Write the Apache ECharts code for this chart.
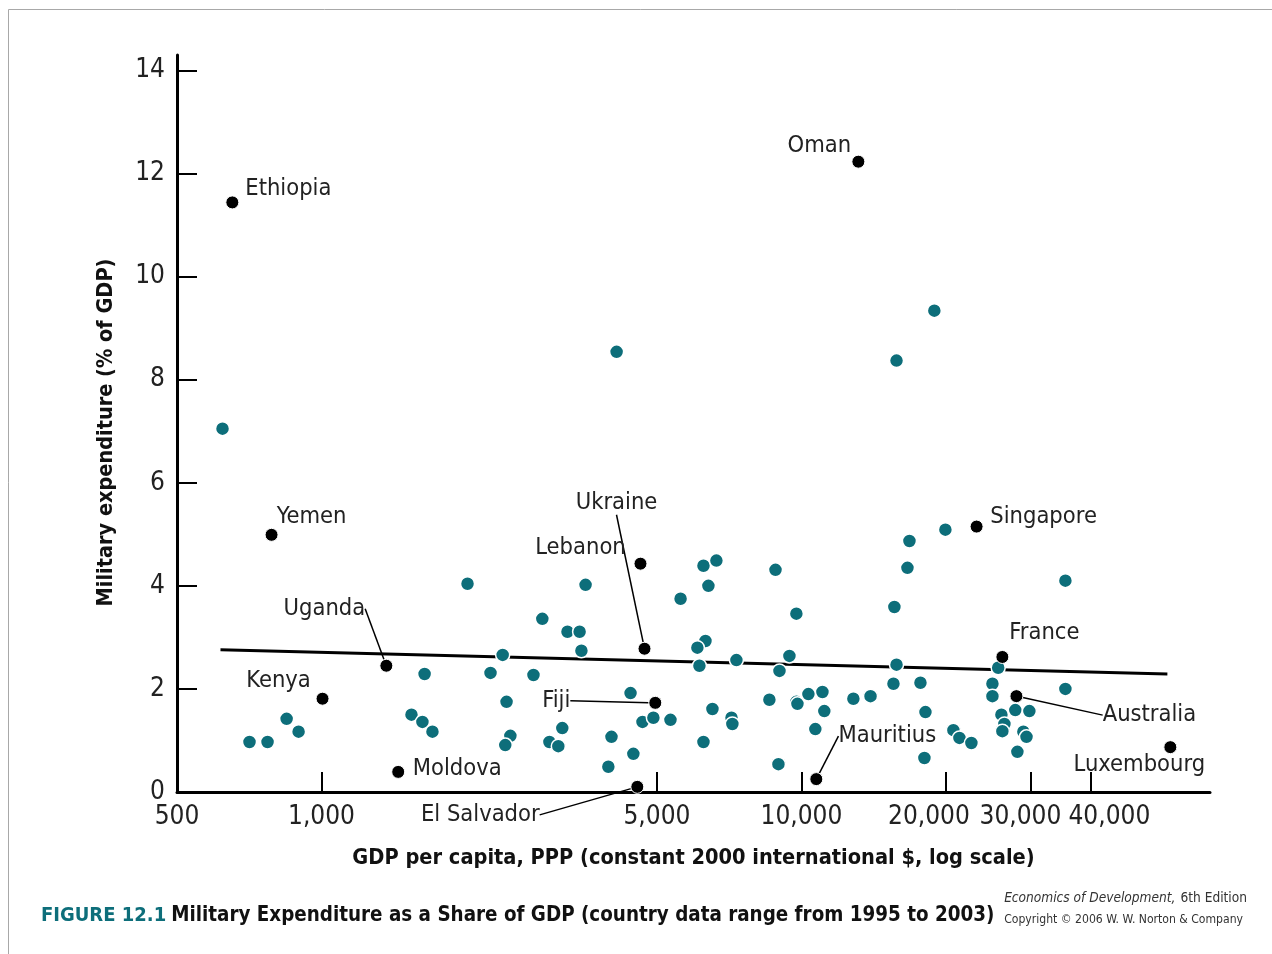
<!DOCTYPE html>
<html>
<head>
<meta charset="utf-8">
<script src="https://cdn.jsdelivr.net/npm/echarts@6/dist/echarts.min.js"></script>
<style>
  html, body { margin: 0; padding: 0; background: #fff; }
  #chart { width: 1272px; height: 954px; }
</style>
</head>
<body>
<div id="chart"></div>
<script>
// labelled countries (black dots)
var namedCountries = ['Ethiopia', 'Oman', 'Yemen', 'Lebanon', 'Ukraine', 'Uganda', 'Kenya', 'Fiji', 'Moldova',
  'El Salvador', 'Singapore', 'France', 'Australia', 'Mauritius', 'Luxembourg']
var namedGdp = [652, 13140, 787, 4620, 4710, 1365, 1005, 4960, 1445, 4550, 23170, 26220, 28050, 10740, 58700]
var namedMilex = [11.44, 12.23, 4.99, 4.43, 2.78, 2.45, 1.81, 1.73, 0.39, 0.10, 5.15, 2.62, 1.86, 0.25, 0.87]

// other countries (teal dots)
var otherGdp = [622, 708, 772, 846, 896, 1540, 1623, 1703, 1640, 2015, 2250, 2385, 2765, 2430, 2475,
  2415, 2885, 3255, 3450, 3480, 3550, 3175, 2985, 3115, 4020, 3960, 4405, 4465, 4120, 4665,
  4915, 5335, 5600, 6250, 6650, 6400, 6310, 6070, 6130, 6525, 6250, 7150, 7180, 7320, 8575,
  8830, 8955, 9000, 9440, 9760, 9760, 9810, 10340, 11060, 11160, 10690, 12830, 13930, 15620, 15780,
  15550, 17700, 18130, 18040, 15780, 16630, 16790, 18920, 19950, 20730, 21340, 22600, 25000, 25000, 25700,
  26100, 26480, 26220, 27900, 29850, 29000, 29440, 28180, 35480, 35480]
var otherMilex = [7.05, 0.97, 0.97, 1.42, 1.17, 1.50, 1.36, 1.17, 2.29, 4.04, 2.31, 2.66, 2.27, 1.75, 1.09,
  0.91, 3.36, 3.11, 3.11, 2.74, 4.02, 1.24, 0.97, 0.89, 1.07, 0.49, 1.92, 0.74, 8.54, 1.36,
  1.44, 1.40, 3.75, 4.39, 4.49, 4.00, 2.93, 2.80, 2.45, 1.61, 0.97, 1.44, 1.32, 2.56, 1.79,
  4.31, 0.54, 2.35, 2.64, 3.46, 1.75, 1.71, 1.90, 1.94, 1.57, 1.22, 1.81, 1.86, 3.59, 2.47,
  2.10, 2.12, 1.55, 0.66, 8.37, 4.35, 4.87, 9.34, 5.09, 1.20, 1.05, 0.95, 2.10, 1.86, 2.41,
  1.50, 1.32, 1.18, 1.59, 1.57, 1.17, 1.07, 0.78, 4.10, 2.00]

// fitted trend line end points
var trendGdp = [616, 57870]
var trendMilex = [2.76, 2.29]

var xTicks = [500, 1000, 5000, 10000, 20000, 30000, 40000]
var yTicks = [0, 2, 4, 6, 8, 10, 12, 14]

// where each country name sits, relative to its dot (px)
var labelOffsets = {
  'Ethiopia': [56, -14], 'Oman': [-39, -16], 'Yemen': [40, -18], 'Lebanon': [-60, -16],
  'Ukraine': [-28, -146], 'Uganda': [-62, -57], 'Kenya': [-44, -18], 'Fiji': [-99, -2],
  'Moldova': [59, -3], 'El Salvador': [-157, 28], 'Singapore': [67, -10], 'France': [42, -24],
  'Australia': [133, 19], 'Mauritius': [71, -43], 'Luxembourg': [-31, 18]
}
var withLeader = ['Ukraine', 'Uganda', 'Fiji', 'El Salvador', 'Australia', 'Mauritius']

var FONT = "'DejaVu Sans Condensed', 'Liberation Sans Narrow', sans-serif"
var TEAL = '#0d6e7a'

var chartDom = document.getElementById('chart')
var myChart = echarts.init(chartDom)

var namedData = namedCountries.map(function (n, i) {
  var item = { name: n, value: [namedGdp[i], namedMilex[i]] }
  if (withLeader.indexOf(n) >= 0) {
    item.labelLine = { show: true, smooth: 0.4, lineStyle: { color: '#000', width: 1.5 } }
  }
  return item
})
var otherData = otherGdp.map(function (g, i) {
  return [g, otherMilex[i]]
})

var option = {
  animation: false,
  backgroundColor: '#fff',
  graphic: [{
    type: 'rect',
    shape: { x: 8.5, y: 9.5, width: 1300, height: 1000 },
    style: { fill: 'none', stroke: '#a8a8a8', lineWidth: 1 },
    silent: true
  }],
  title: [{
    text: '{a|FIGURE 12.1} {b|Military Expenditure as a Share of GDP (country data range from 1995 to 2003)}',
    left: 36,
    top: 901,
    textStyle: {
      rich: {
        a: { fontFamily: FONT, fontSize: 20, fontWeight: 'bold', color: TEAL },
        b: { fontFamily: FONT, fontSize: 20.4, fontWeight: 'bold', color: '#111' }
      }
    }
  }, {
    text: '{i|Economics of Development,} {n|6th Edition}\n{s|Copyright © 2006 W. W. Norton & Company}',
    right: 20,
    top: 882,
    textStyle: {
      rich: {
        i: { fontFamily: FONT, fontSize: 13.6, fontStyle: 'italic', fontWeight: 'normal', color: '#333', lineHeight: 22 },
        n: { fontFamily: FONT, fontSize: 13.6, fontWeight: 'normal', color: '#333', lineHeight: 22 },
        s: { fontFamily: FONT, fontSize: 12.1, fontWeight: 'normal', color: '#333', lineHeight: 22 }
      }
    }
  }],
  grid: {
    left: 177,
    right: 62,
    top: 55,
    bottom: 162,
    outerBoundsMode: 'none'
  },
  xAxis: {
    type: 'log',
    logBase: 10,
    min: 500,
    max: 71000,
    name: 'GDP per capita, PPP (constant 2000 international $, log scale)',
    nameLocation: 'middle',
    nameGap: 55,
    nameTextStyle: { fontFamily: FONT, fontSize: 21.6, fontWeight: 'bold', color: '#111' },
    axisLine: { lineStyle: { color: '#000', width: 3 } },
    axisTick: { inside: true, length: 20, customValues: xTicks, lineStyle: { color: '#000', width: 2 } },
    axisLabel: {
      customValues: xTicks,
      hideOverlap: false,
      margin: 12,
      fontFamily: FONT,
      fontSize: 26,
      color: '#222',
      formatter: function (v) {
        var s = String(Math.round(v)).replace(/\B(?=(\d{3})+(?!\d))/g, ',')
        if (Math.round(v) === 20000) return '{l|' + s + '}'
        if (Math.round(v) === 30000) return '{m|' + s + '}'
        if (Math.round(v) === 40000) return '{r|' + s + '}'
        return s
      },
      rich: {
        l: { fontFamily: FONT, fontSize: 26, color: '#222', padding: [0, 34, 0, 0] },
        m: { fontFamily: FONT, fontSize: 26, color: '#222', padding: [0, 20, 0, 0] },
        r: { fontFamily: FONT, fontSize: 26, color: '#222', padding: [0, 0, 0, 38] }
      }
    },
    splitLine: { show: false },
    minorTick: { show: false }
  },
  yAxis: {
    type: 'value',
    min: 0,
    max: 14.3,
    name: 'Military expenditure (% of GDP)',
    nameLocation: 'middle',
    nameGap: 60,
    nameRotate: 90,
    nameTextStyle: { fontFamily: FONT, fontSize: 21.5, fontWeight: 'bold', color: '#111', padding: [0, 18, 0, 0] },
    axisLine: { show: true, lineStyle: { color: '#000', width: 3 } },
    axisTick: { show: true, inside: true, length: 20, customValues: yTicks, lineStyle: { color: '#000', width: 2 } },
    axisLabel: { customValues: yTicks, margin: 12, fontFamily: FONT, fontSize: 26, color: '#222' },
    splitLine: { show: false }
  },
  series: [{
    type: 'line',
    data: trendGdp.map(function (g, i) { return [g, trendMilex[i]] }),
    showSymbol: false,
    symbol: 'none',
    lineStyle: { color: '#000', width: 3 },
    z: 1,
    silent: true
  }, {
    type: 'scatter',
    data: otherData,
    symbolSize: 14,
    itemStyle: { color: TEAL, borderColor: '#fff', borderWidth: 1.5, opacity: 1 },
    z: 2
  }, {
    type: 'scatter',
    data: namedData,
    symbolSize: 13,
    itemStyle: { color: '#000', borderColor: '#fff', borderWidth: 1, opacity: 1 },
    z: 3,
    label: {
      show: true,
      formatter: '{b}',
      fontFamily: FONT,
      fontSize: 23.5,
      color: '#222'
    },
    labelLayout: function (p) {
      var off = labelOffsets[namedCountries[p.dataIndex]]
      var cx = p.rect.x + p.rect.width / 2
      var cy = p.rect.y + p.rect.height / 2
      return { x: cx + off[0], y: cy + off[1], align: 'center', verticalAlign: 'middle' }
    }
  }]
}

option && myChart.setOption(option)
</script>
</body>
</html>
